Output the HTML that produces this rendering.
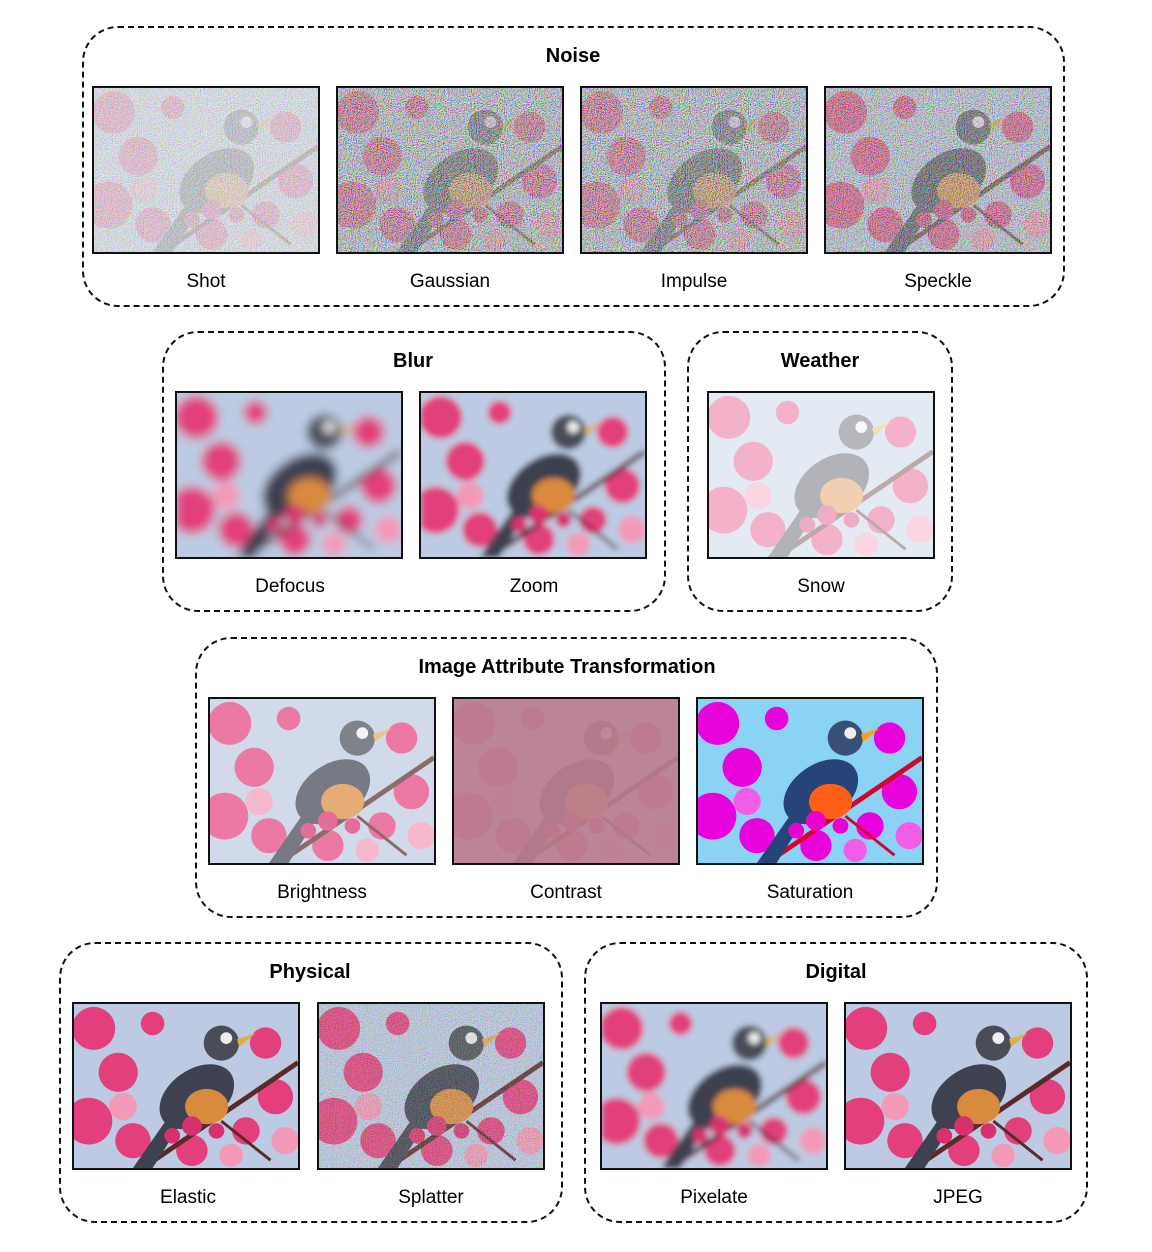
<!DOCTYPE html>
<html><head><meta charset="utf-8">
<style>
body{margin:0;width:1152px;height:1252px;background:#fff;font-family:"Liberation Sans",Arial,sans-serif;position:relative;overflow:hidden}
.box{position:absolute;border:2px dashed #111;border-radius:36px;box-sizing:border-box}
.title{position:absolute;font-weight:bold;font-size:20px;color:#000;text-align:center;transform:translateX(-50%);white-space:nowrap}
.img{position:absolute;width:228px;height:168px;border:2px solid #111;box-sizing:border-box;overflow:hidden;background:#bccbe3}
.img svg{display:block;width:100%;height:100%}
.lbl{position:absolute;font-size:19px;color:#000;transform:translateX(-50%);white-space:nowrap}
</style></head><body>
<svg width="0" height="0" style="position:absolute">
<defs>
<symbol id="scene" viewBox="0 0 228 168">
<rect width="228" height="168" fill="#bccbe3"/>
<g fill="#e23f7c">
<circle cx="20" cy="25" r="22"/><circle cx="45" cy="70" r="20"/><circle cx="15" cy="120" r="24"/>
<circle cx="60" cy="140" r="18"/><circle cx="195" cy="40" r="16"/><circle cx="205" cy="95" r="18"/>
<circle cx="120" cy="150" r="16"/><circle cx="175" cy="130" r="14"/><circle cx="80" cy="20" r="12"/>
</g>
<g fill="#f29ab8"><circle cx="50" cy="105" r="14"/><circle cx="160" cy="155" r="12"/><circle cx="215" cy="140" r="14"/></g>
<path d="M70 168 L228 60" stroke="#5a2a2a" stroke-width="5"/>
<path d="M150 120 L200 160" stroke="#5a2a2a" stroke-width="3"/>
<ellipse cx="125" cy="95" rx="42" ry="28" fill="#3d4150" transform="rotate(-35 125 95)"/>
<ellipse cx="135" cy="105" rx="22" ry="18" fill="#d98a3c"/>
<path d="M100 110 L60 168 L80 168 L110 120Z" fill="#3d4150"/>
<circle cx="150" cy="40" r="18" fill="#4a4d58"/>
<circle cx="155" cy="35" r="6" fill="#eee"/>
<path d="M166 36 L185 30 L168 44Z" fill="#e0b040"/>
<g fill="#d8306e"><circle cx="120" cy="125" r="10"/><circle cx="100" cy="135" r="8"/><circle cx="145" cy="130" r="8"/></g>
</symbol>
<filter id="noise" x="0" y="0" width="100%" height="100%"><feTurbulence type="fractalNoise" baseFrequency="0.95" numOctaves="2" seed="3"/><feColorMatrix type="matrix" values="3 0 0 0 -1  0 3 0 0 -1  0 0 3 0 -1  0 0 0 0 0.7"/></filter>
<filter id="blur"><feGaussianBlur stdDeviation="5"/></filter>
<filter id="blur2"><feGaussianBlur stdDeviation="3"/></filter>
</defs></svg>

<div class="box" style="left:82px;top:26px;width:983px;height:281px"></div>
<div class="title" style="left:573px;top:45px">Noise</div>
<div class="img" style="left:92px;top:86px"><svg viewBox="0 0 228 168" preserveAspectRatio="none"><use href="#scene"/><rect width="228" height="168" fill="#eef0f6" opacity="0.75"/><rect width="228" height="168" filter="url(#noise)" opacity="0.4"/></svg></div>
<div class="img" style="left:336px;top:86px"><svg viewBox="0 0 228 168" preserveAspectRatio="none"><use href="#scene"/><rect width="228" height="168" filter="url(#noise)"/></svg></div>
<div class="img" style="left:580px;top:86px"><svg viewBox="0 0 228 168" preserveAspectRatio="none"><use href="#scene"/><rect width="228" height="168" filter="url(#noise)"/></svg></div>
<div class="img" style="left:824px;top:86px"><svg viewBox="0 0 228 168" preserveAspectRatio="none"><use href="#scene"/><rect width="228" height="168" filter="url(#noise)" opacity="0.8"/></svg></div>
<div class="lbl" style="left:206px;top:271px">Shot</div>
<div class="lbl" style="left:450px;top:271px">Gaussian</div>
<div class="lbl" style="left:694px;top:271px">Impulse</div>
<div class="lbl" style="left:938px;top:271px">Speckle</div>

<div class="box" style="left:162px;top:331px;width:504px;height:281px"></div>
<div class="title" style="left:413px;top:350px">Blur</div>
<div class="img" style="left:175px;top:391px"><svg viewBox="0 0 228 168" preserveAspectRatio="none"><g filter="url(#blur)"><use href="#scene"/></g></svg></div>
<div class="img" style="left:419px;top:391px"><svg viewBox="0 0 228 168" preserveAspectRatio="none"><g filter="url(#blur2)"><use href="#scene"/></g></svg></div>
<div class="lbl" style="left:290px;top:576px">Defocus</div>
<div class="lbl" style="left:534px;top:576px">Zoom</div>

<div class="box" style="left:687px;top:331px;width:266px;height:281px"></div>
<div class="title" style="left:820px;top:350px">Weather</div>
<div class="img" style="left:707px;top:391px"><svg viewBox="0 0 228 168" preserveAspectRatio="none"><use href="#scene"/><rect width="228" height="168" fill="#fff" opacity="0.6"/></svg></div>
<div class="lbl" style="left:821px;top:576px">Snow</div>

<div class="box" style="left:195px;top:637px;width:743px;height:281px"></div>
<div class="title" style="left:567px;top:656px">Image Attribute Transformation</div>
<div class="img" style="left:208px;top:697px"><svg viewBox="0 0 228 168" preserveAspectRatio="none"><use href="#scene"/><rect width="228" height="168" fill="#fff" opacity="0.3"/></svg></div>
<div class="img" style="left:452px;top:697px"><svg viewBox="0 0 228 168" preserveAspectRatio="none"><use href="#scene"/><rect width="228" height="168" fill="#bb7f90" opacity="0.92"/></svg></div>
<div class="img" style="left:696px;top:697px"><svg viewBox="0 0 228 168" preserveAspectRatio="none" style="filter:saturate(4) hue-rotate(-10deg)"><use href="#scene"/></svg></div>
<div class="lbl" style="left:322px;top:882px">Brightness</div>
<div class="lbl" style="left:566px;top:882px">Contrast</div>
<div class="lbl" style="left:810px;top:882px">Saturation</div>

<div class="box" style="left:59px;top:942px;width:504px;height:281px"></div>
<div class="title" style="left:310px;top:961px">Physical</div>
<div class="img" style="left:72px;top:1002px"><svg viewBox="0 0 228 168" preserveAspectRatio="none"><use href="#scene"/></svg></div>
<div class="img" style="left:317px;top:1002px"><svg viewBox="0 0 228 168" preserveAspectRatio="none"><use href="#scene"/><rect width="228" height="168" filter="url(#noise)" opacity="0.35"/></svg></div>
<div class="lbl" style="left:188px;top:1187px">Elastic</div>
<div class="lbl" style="left:431px;top:1187px">Splatter</div>

<div class="box" style="left:584px;top:942px;width:504px;height:281px"></div>
<div class="title" style="left:836px;top:961px">Digital</div>
<div class="img" style="left:600px;top:1002px"><svg viewBox="0 0 228 168" preserveAspectRatio="none"><g filter="url(#blur2)"><use href="#scene"/></g></svg></div>
<div class="img" style="left:844px;top:1002px"><svg viewBox="0 0 228 168" preserveAspectRatio="none"><use href="#scene"/></svg></div>
<div class="lbl" style="left:714px;top:1187px">Pixelate</div>
<div class="lbl" style="left:958px;top:1187px">JPEG</div>
</body></html>
